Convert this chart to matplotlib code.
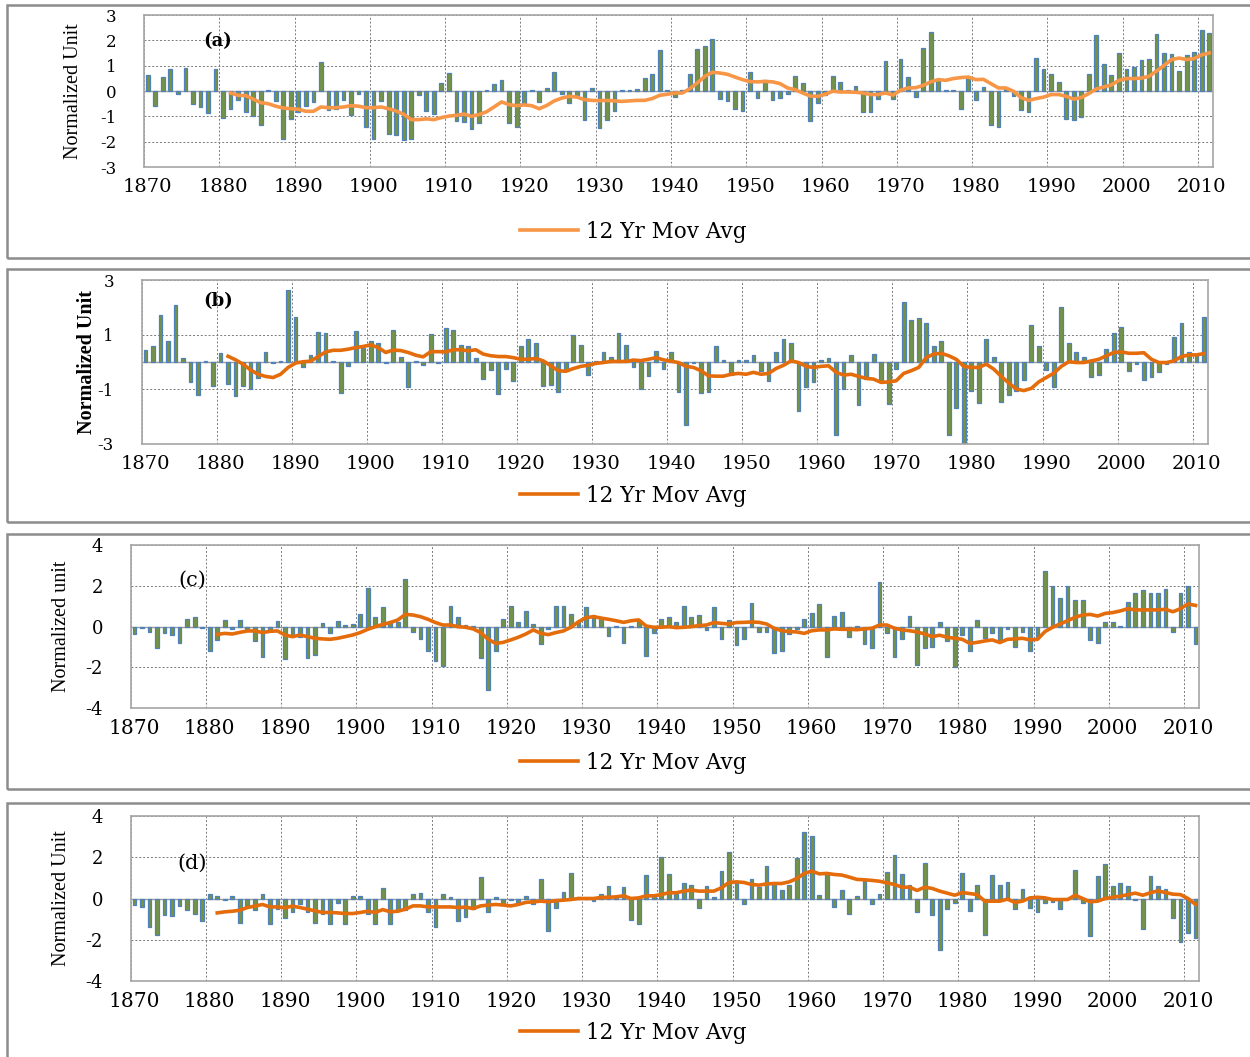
import numpy as np
import matplotlib.pyplot as plt
from matplotlib.patches import Rectangle

years = np.arange(1870, 2012)
ma_years = np.arange(1881, 2012)

# ---- panel (a) ----
vals_a = [0.65, -0.58, 0.55, 0.85, -0.12, 0.92, -0.53, -0.65, -0.87, 0.85,
          -1.08, -0.70, -0.34, -0.83, -0.97, -1.33, 0.03, -0.40, -1.88, -1.09,
          -0.83, -0.60, -0.43, 1.13, -0.76, -0.71, -0.34, -0.95, -0.10, -1.43,
          -1.88, -0.40, -1.68, -1.75, -1.95, -1.88, -0.17, -0.80, -0.90, 0.32,
          0.71, -1.18, -1.22, -1.49, -1.25, 0.03, 0.26, 0.42, -1.25, -1.43,
          -0.53, 0.03, -0.43, 0.10, 0.74, -0.13, -0.47, -0.17, -1.13, 0.13,
          -1.46, -1.13, -0.79, 0.03, 0.03, 0.09, 0.53, 0.66, 1.60, 0.03,
          -0.24, 0.02, 0.66, 1.66, 1.76, 2.07, -0.33, -0.39, -0.70, -0.79,
          0.74, -0.28, 0.42, -0.34, -0.28, -0.13, 0.59, 0.32, -1.18, -0.47,
          -0.16, 0.58, 0.34, 0.02, 0.18, -0.84, -0.84, -0.33, 1.18, -0.33,
          1.25, 0.55, -0.24, 1.71, 2.32, 0.47, 0.05, 0.03, -0.70, 0.55,
          -0.37, 0.16, -1.36, -1.43, 0.07, -0.20, -0.76, -0.84, 1.29, 0.87,
          0.68, 0.34, -1.09, -1.16, -1.03, 0.68, 2.21, 1.08, 0.62, 1.51,
          0.88, 0.95, 1.21, 1.25, 2.25, 1.51, 1.45, 0.80, 1.41, 1.54,
          2.39, 2.28]
ma_a = [-0.08, -0.17, -0.18, -0.32, -0.46, -0.50, -0.60, -0.67, -0.70, -0.72,
        -0.80, -0.80, -0.63, -0.66, -0.66, -0.63, -0.58, -0.60, -0.66, -0.66,
        -0.63, -0.70, -0.79, -0.92, -1.13, -1.13, -1.10, -1.13, -1.05, -0.99,
        -0.96, -0.91, -1.00, -0.93, -0.82, -0.63, -0.43, -0.54, -0.58, -0.55,
        -0.58, -0.70, -0.57, -0.39, -0.28, -0.21, -0.24, -0.34, -0.37, -0.38,
        -0.37, -0.39, -0.41, -0.39, -0.37, -0.37, -0.30, -0.17, -0.13, -0.08,
        -0.08, 0.09, 0.32, 0.58, 0.74, 0.71, 0.66, 0.55, 0.45, 0.37,
        0.36, 0.38, 0.36, 0.29, 0.12, 0.05, -0.08, -0.20, -0.21, -0.13,
        -0.01, -0.04, -0.04, -0.05, -0.08, -0.14, -0.14, -0.08, -0.16, 0.03,
        0.12, 0.13, 0.22, 0.36, 0.45, 0.42, 0.49, 0.53, 0.55, 0.45,
        0.46, 0.29, 0.12, 0.12, -0.01, -0.26, -0.37, -0.30, -0.24, -0.14,
        -0.14, -0.21, -0.32, -0.26, -0.10, 0.08, 0.16, 0.24, 0.42, 0.49,
        0.49, 0.51, 0.58, 0.79, 1.01, 1.24, 1.30, 1.24, 1.28, 1.43,
        1.50]

# ---- panel (b) ----
vals_b = [0.44, 0.57, 1.72, 0.77, 2.10, 0.14, -0.73, -1.20, 0.02, -0.87,
          0.32, -0.81, -1.26, -0.87, -0.99, -0.58, 0.35, -0.04, 0.04, 2.63,
          1.65, -0.18, 0.25, 1.10, 1.07, 0.02, -1.15, -0.14, 1.13, 0.53,
          0.76, 0.68, -0.05, 1.19, 0.20, -0.93, 0.04, -0.10, 1.03, -0.04,
          1.25, 1.19, 0.64, 0.57, 0.15, -0.62, -0.29, -1.18, -0.26, -0.70,
          0.59, 0.84, 0.71, -0.87, -0.85, -1.09, -0.29, 1.00, 0.62, -0.48,
          0.02, 0.37, 0.20, 1.07, 0.62, -0.20, -0.99, -0.51, 0.41, -0.27,
          0.37, -1.09, -2.31, -0.05, -1.14, -1.09, 0.57, 0.08, -0.47, 0.08,
          0.08, 0.27, -0.32, -0.68, 0.35, 0.86, 0.69, -1.79, -0.93, -0.73,
          0.08, 0.14, -2.68, -0.99, 0.25, -1.58, -0.62, 0.31, -0.75, -1.56,
          -0.26, 2.20, 1.54, 1.62, 1.43, 0.57, 0.76, -2.68, -1.68, -3.04,
          -1.07, -1.52, 0.84, 0.20, -1.46, -1.21, -1.05, -0.65, 1.36, 0.57,
          -0.29, -0.90, 2.02, 0.71, 0.35, 0.18, -0.54, -0.47, 0.47, 1.05,
          1.30, -0.32, -0.08, -0.66, -0.54, -0.38, -0.08, 0.93, 1.44, 0.35,
          0.29, 1.65]
ma_b = [0.21, 0.08, -0.08, -0.29, -0.45, -0.53, -0.57, -0.45, -0.20, -0.04,
        0.01, 0.03, 0.20, 0.37, 0.43, 0.43, 0.47, 0.53, 0.57, 0.63,
        0.53, 0.35, 0.44, 0.42, 0.35, 0.25, 0.19, 0.38, 0.38, 0.37,
        0.45, 0.45, 0.41, 0.45, 0.29, 0.23, 0.20, 0.20, 0.16, 0.10,
        0.10, 0.13, 0.04, -0.14, -0.32, -0.34, -0.24, -0.16, -0.12, -0.05,
        -0.02, 0.02, 0.02, 0.02, 0.07, 0.05, 0.10, 0.16, 0.08, 0.03,
        -0.02, -0.16, -0.20, -0.32, -0.51, -0.52, -0.52, -0.45, -0.42, -0.45,
        -0.38, -0.45, -0.42, -0.24, -0.12, 0.04, -0.02, -0.16, -0.20, -0.16,
        -0.14, -0.38, -0.48, -0.45, -0.53, -0.60, -0.63, -0.75, -0.73, -0.69,
        -0.42, -0.32, -0.20, 0.16, 0.29, 0.32, 0.23, 0.10, -0.16, -0.20,
        -0.20, -0.08, -0.26, -0.53, -0.77, -0.99, -1.05, -0.97, -0.73, -0.57,
        -0.41, -0.16, 0.01, -0.02, -0.02, 0.04, 0.10, 0.23, 0.35, 0.37,
        0.32, 0.32, 0.34, 0.10, -0.02, -0.02, 0.04, 0.20, 0.26, 0.26,
        0.31]

# ---- panel (c) ----
vals_c = [-0.38, -0.07, -0.28, -1.03, -0.33, -0.42, -0.82, 0.38, 0.46, -0.08,
          -1.17, -0.65, 0.34, -0.13, 0.34, -0.10, -0.69, -1.47, -0.16, 0.29,
          -1.57, -0.52, -0.52, -1.52, -1.39, 0.20, -0.33, 0.29, 0.08, 0.15,
          0.60, 1.88, 0.47, 0.95, 0.29, 0.23, 2.32, -0.26, -0.59, -1.21,
          -1.66, -1.92, 1.03, 0.46, 0.07, 0.02, -1.52, -3.10, -1.17, 0.39,
          1.03, 0.24, 0.75, 0.11, -0.86, -0.13, 1.03, 1.03, 0.60, 0.24,
          0.95, 0.59, 0.38, -0.46, 0.03, -0.78, 0.02, 0.33, -1.44, -0.33,
          0.39, 0.46, 0.24, 1.00, 0.46, 0.55, -0.16, 0.95, -0.59, 0.33,
          -0.90, -0.59, 1.14, -0.24, -0.24, -1.31, -1.21, -0.38, -0.11, 0.39,
          0.65, 1.10, -1.50, 0.52, 0.70, -0.52, 0.05, -0.85, -1.04, 2.17,
          -0.29, -1.50, -0.60, 0.52, -1.88, -1.04, -0.98, 0.24, -0.70, -1.99,
          -0.39, -1.17, 0.31, -0.57, -0.29, -0.69, -0.10, -1.01, -0.24, -1.17,
          -0.49, 2.72, 1.99, 1.40, 1.99, 1.30, 1.30, -0.65, -0.82, 0.24,
          0.24, 0.02, 1.22, 1.63, 1.79, 1.66, 1.63, 1.84, -0.24, 1.63,
          1.99, -0.86]
ma_c = [-0.38, -0.33, -0.36, -0.28, -0.21, -0.21, -0.29, -0.23, -0.21, -0.41,
        -0.49, -0.41, -0.49, -0.57, -0.60, -0.62, -0.57, -0.49, -0.41, -0.29,
        -0.13, 0.00, 0.11, 0.20, 0.33, 0.60, 0.57, 0.49, 0.36, 0.20,
        0.08, 0.08, 0.00, -0.03, -0.11, -0.29, -0.62, -0.82, -0.77, -0.65,
        -0.52, -0.36, -0.16, -0.33, -0.39, -0.29, -0.21, -0.03, 0.24, 0.44,
        0.49, 0.42, 0.36, 0.29, 0.21, 0.29, 0.33, 0.03, -0.03, -0.03,
        0.00, -0.05, -0.03, 0.00, 0.05, 0.08, 0.20, 0.16, 0.13, 0.20,
        0.21, 0.23, 0.21, 0.13, -0.08, -0.20, -0.24, -0.26, -0.33, -0.20,
        -0.16, -0.16, -0.11, -0.13, -0.13, -0.15, -0.11, -0.08, 0.08, 0.08,
        -0.08, -0.16, -0.20, -0.26, -0.36, -0.49, -0.42, -0.52, -0.57, -0.62,
        -0.82, -0.77, -0.70, -0.65, -0.78, -0.62, -0.60, -0.57, -0.65, -0.62,
        -0.24, -0.03, 0.13, 0.29, 0.46, 0.57, 0.60, 0.52, 0.65, 0.69,
        0.77, 0.88, 0.82, 0.82, 0.82, 0.82, 0.85, 0.73, 0.88, 1.11,
        1.04]

# ---- panel (d) ----
vals_d = [-0.32, -0.41, -1.38, -1.79, -0.81, -0.86, -0.37, -0.54, -0.73, -1.10,
          0.24, 0.11, -0.08, 0.11, -1.17, -0.36, -0.54, 0.24, -1.25, -0.49,
          -0.93, -0.65, -0.29, -0.65, -1.17, -0.73, -1.22, -0.24, -1.25, 0.11,
          0.11, -0.76, -1.22, 0.52, -1.22, -0.62, -0.54, 0.24, 0.29, -0.65,
          -1.38, 0.24, 0.05, -1.10, -0.89, -0.49, 1.04, -0.65, 0.06, -0.29,
          -0.08, -0.16, 0.11, -0.29, 0.96, -1.56, -0.44, 0.32, 1.22, 0.06,
          0.02, -0.10, 0.24, 0.63, 0.02, 0.55, -1.07, -1.25, 1.12, 0.11,
          2.00, 1.17, 0.23, 0.73, 0.65, -0.45, 0.62, 0.05, 1.36, 2.24,
          0.73, -0.29, 0.97, 0.58, 1.57, 0.73, 0.39, 0.68, 1.98, 3.25,
          3.04, 0.16, 1.17, -0.41, 0.39, -0.73, 0.11, 0.84, -0.29, 0.24,
          1.27, 2.11, 1.17, 0.65, -0.68, 1.75, -0.81, -2.52, -0.52, -0.24,
          1.22, -0.60, 0.68, -1.79, 1.14, 0.68, 0.78, -0.52, 0.44, -0.44,
          -0.65, -0.24, -0.16, -0.52, 0.02, 1.41, -0.21, -1.83, 1.09, 1.70,
          0.62, 0.73, 0.62, -0.06, -1.46, 1.09, 0.62, 0.44, -0.94, -2.14,
          -1.66, -1.92]
ma_d = [-0.70, -0.65, -0.62, -0.57, -0.44, -0.37, -0.29, -0.41, -0.41, -0.45,
        -0.37, -0.44, -0.52, -0.60, -0.68, -0.68, -0.70, -0.73, -0.73, -0.68,
        -0.62, -0.68, -0.54, -0.65, -0.62, -0.52, -0.36, -0.36, -0.41, -0.41,
        -0.41, -0.41, -0.44, -0.42, -0.49, -0.36, -0.32, -0.29, -0.32, -0.36,
        -0.29, -0.19, -0.16, -0.13, -0.16, -0.11, -0.08, -0.05, 0.00, 0.00,
        0.00, 0.05, 0.06, 0.08, 0.13, 0.00, 0.03, 0.13, 0.13, 0.19,
        0.28, 0.28, 0.36, 0.41, 0.36, 0.36, 0.36, 0.52, 0.78, 0.81,
        0.78, 0.68, 0.65, 0.71, 0.73, 0.73, 0.81, 0.97, 1.22, 1.33,
        1.20, 1.22, 1.17, 1.14, 1.04, 0.93, 0.91, 0.88, 0.84, 0.76,
        0.68, 0.55, 0.55, 0.39, 0.55, 0.49, 0.36, 0.26, 0.16, 0.29,
        0.24, 0.19, -0.13, -0.13, -0.13, -0.03, -0.19, -0.13, 0.03, 0.06,
        0.03, -0.05, -0.05, -0.05, 0.16, 0.00, -0.16, -0.13, 0.00, 0.06,
        0.11, 0.19, 0.26, 0.16, 0.28, 0.37, 0.29, 0.21, 0.19, 0.00,
        -0.29]

decade_labels = [str(y) for y in range(1870, 2011, 10)]

W, H = 1250, 1057
fig = plt.figure(figsize=(W / 100, H / 100), dpi=100)


def frac_rect(l, t, r, b):
    return [l / W, 1 - b / H, (r - l) / W, (b - t) / H]


panels = [
    dict(vals=vals_a, ma=ma_a, box=(7, 5, 1256, 258), rect=(144, 15, 1213, 167),
         ylim=(-3, 3), yticks=[-3, -2, -1, 0, 1, 2, 3], ylabel='Normalized Unit',
         ylw='normal', ylx=83, tag='(a)', tagxy=(218, 41), tagw='bold', tags=13,
         mac='#F79646', legy=232, yfs=12, xfs=14),
    dict(vals=vals_b, ma=ma_b, box=(7, 269, 1256, 522), rect=(141.7, 280.3, 1207.7, 443.7),
         ylim=(-3, 3), yticks=[-3, -1, 1, 3], ylabel='Normalized Unit',
         ylw='bold', ylx=97, tag='(b)', tagxy=(218, 301), tagw='bold', tags=13,
         mac='#E46C0A', legy=496, yfs=12, xfs=14),
    dict(vals=vals_c, ma=ma_c, box=(7, 534, 1256, 789), rect=(130.7, 545, 1199.3, 708.3),
         ylim=(-4, 4), yticks=[-4, -2, 0, 2, 4], ylabel='Normalized unit',
         ylw='normal', ylx=71, tag='(c)', tagxy=(192, 580), tagw='normal', tags=15,
         mac='#E46C0A', legy=763, yfs=13, xfs=14.5),
    dict(vals=vals_d, ma=ma_d, box=(7, 803, 1256, 1070), rect=(130.7, 816.3, 1199.3, 980.7),
         ylim=(-4, 4), yticks=[-4, -2, 0, 2, 4], ylabel='Normalized Unit',
         ylw='normal', ylx=71, tag='(d)', tagxy=(192, 863), tagw='normal', tags=15,
         mac='#E46C0A', legy=1033, yfs=13, xfs=14.5),
]

for p in panels:
    bl, bt, br, bb = p['box']
    fig.add_artist(Rectangle((bl / W, 1 - bb / H), (br - bl) / W, (bb - bt) / H,
                             transform=fig.transFigure, fill=False,
                             edgecolor='#8c8c8c', linewidth=1.8))

    l, t, r, b = p['rect']
    ax = fig.add_axes(frac_rect(l, t, r, b))
    ax.set_axisbelow(True)
    ax.bar(years, p['vals'], width=0.5, color='#77933C', edgecolor='#4F81BD',
           linewidth=0.9, zorder=2)
    ax.axhline(0, color='#9a9a9a', linewidth=1.0, zorder=1.5)
    ax.plot(ma_years, p['ma'], color=p['mac'], linewidth=2.6, zorder=3,
            label='12 Yr Mov Avg')

    ax.set_xlim(1869.5, 2011.5)
    ax.set_ylim(*p['ylim'])
    ax.set_yticks(p['yticks'])
    ax.set_yticklabels([str(v) for v in p['yticks']], fontfamily='DejaVu Serif',
                       fontsize=p['yfs'])
    ax.set_xticks(range(1870, 2011, 10))
    ax.set_xticklabels(decade_labels, fontfamily='DejaVu Serif', fontsize=p['xfs'])
    ax.set_xticks(np.arange(1869.5, 2010, 10), minor=True)
    ax.tick_params(axis='both', which='both', length=0)
    ax.tick_params(axis='y', pad=20)
    ax.tick_params(axis='x', pad=8)

    ax.yaxis.grid(True, color='#7a7a7a', linestyle=(0, (2, 2)), linewidth=0.7)
    ax.xaxis.grid(True, which='minor', color='#7a7a7a', linestyle=(0, (2, 2)),
                  linewidth=0.7)
    ax.xaxis.grid(False, which='major')
    for s in ax.spines.values():
        s.set_color('#a6a6a6')
        s.set_linewidth(1.2)

    ax.set_ylabel(p['ylabel'], fontfamily='Liberation Serif', fontsize=14.5,
                  fontweight=p['ylw'])
    ax.yaxis.set_label_coords((p['ylx'] - l) / (r - l), 0.5)

    tx, ty = p['tagxy']
    fig.text(tx / W, 1 - ty / H, p['tag'], fontfamily='DejaVu Serif',
             fontsize=p['tags'], fontweight=p['tagw'], ha='center', va='center')

    ax.legend(loc='center', bbox_to_anchor=(633 / W, 1 - p['legy'] / H),
              bbox_transform=fig.transFigure, frameon=False, handlelength=2.7,
              handletextpad=0.35,
              prop={'family': 'DejaVu Serif', 'size': 15.5})

fig.savefig('out.png', dpi=100)
